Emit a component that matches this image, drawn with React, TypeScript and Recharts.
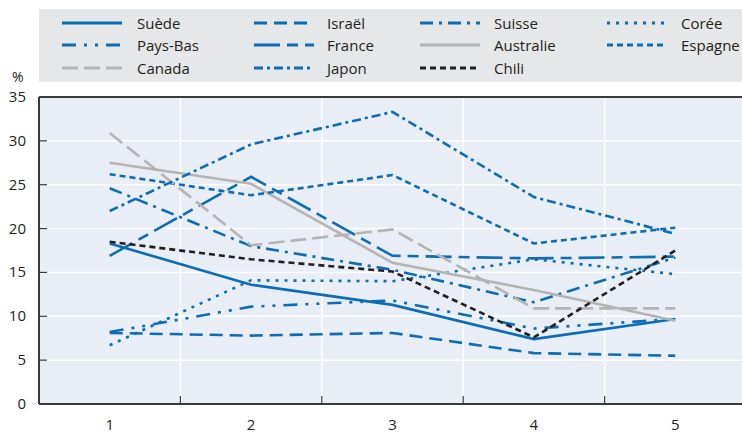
import React from 'react';
import { LineChart, Line, XAxis, YAxis, CartesianGrid, ReferenceLine } from 'recharts';

const categories = ['1', '2', '3', '4', '5'];

const suede = [18.3, 13.6, 11.3, 7.4, 9.7];
const israel = [8.1, 7.8, 8.1, 5.8, 5.5];
const suisse = [24.6, 18.0, 15.3, 11.6, 16.7];
const coree = [6.7, 14.1, 14.0, 16.5, 14.8];
const paysBas = [8.2, 11.1, 11.8, 8.6, 9.7];
const france = [16.9, 25.9, 16.9, 16.6, 16.8];
const australie = [27.5, 25.1, 16.1, 13.0, 9.5];
const espagne = [26.2, 23.8, 26.1, 18.3, 20.1];
const canada = [30.9, 18.1, 19.9, 10.9, 10.9];
const japon = [22.0, 29.6, 33.3, 23.6, 19.4];
const chili = [18.5, 16.5, 15.1, 7.6, 17.5];

const yTicks = [0, 5, 10, 15, 20, 25, 30, 35];

const BLUE = '#0a6db5';
const GRAY = '#b4b4b4';
const BLACK = '#231f20';

const series = [
  { key: 'suede', name: 'Suède', values: suede, color: BLUE, dash: undefined },
  { key: 'israel', name: 'Israël', values: israel, color: BLUE, dash: '13 7' },
  { key: 'suisse', name: 'Suisse', values: suisse, color: BLUE, dash: '13 6 3 6' },
  { key: 'coree', name: 'Corée', values: coree, color: BLUE, dash: '3 6' },
  { key: 'paysBas', name: 'Pays-Bas', values: paysBas, color: BLUE, dash: '14 8 3 8 3 8' },
  { key: 'france', name: 'France', values: france, color: BLUE, dash: '26 7 11 7' },
  { key: 'australie', name: 'Australie', values: australie, color: GRAY, dash: undefined },
  { key: 'espagne', name: 'Espagne', values: espagne, color: BLUE, dash: '6 4' },
  { key: 'canada', name: 'Canada', values: canada, color: GRAY, dash: '16 6' },
  { key: 'japon', name: 'Japon', values: japon, color: BLUE, dash: '9 4 3 4' },
  { key: 'chili', name: 'Chili', values: chili, color: BLACK, dash: '6 4' },
];

const data = categories.map((c, i) => {
  const row: Record<string, any> = { name: c };
  series.forEach((s) => { row[s.key] = s.values[i]; });
  return row;
});

const CHART_W = 750;
const CHART_H = 434;
const MARGIN = { top: 97, right: 4, left: 0, bottom: 0 };
const Y_AXIS_W = 39;
const X_AXIS_H = 30;
const PLOT_W = CHART_W - MARGIN.left - MARGIN.right - Y_AXIS_W;
const BAND = PLOT_W / categories.length;

const FONT = "'Open Sans', 'Noto Sans', sans-serif";
const AXIS = '#3a3a3a';

const YTick = (props: any) => {
  const { x, y, payload } = props;
  return (
    <g>
      {payload.value !== 0 && payload.value !== 35 && (
        <line x1={x} x2={x + 8} y1={y} y2={y} stroke={AXIS} strokeWidth={1.2} />
      )}
      <text x={x - 13} y={y} dy={5} textAnchor="end" fontSize={15} fontFamily={FONT} fill="#231f20">
        {payload.value}
      </text>
    </g>
  );
};

const XTick = (props: any) => {
  const { x, y, payload, index } = props;
  return (
    <g>
      {index > 0 && (
        <line x1={x - BAND / 2} x2={x - BAND / 2} y1={y - 8} y2={y} stroke={AXIS} strokeWidth={1.2} />
      )}
      <text x={x} y={y + 26} textAnchor="middle" fontSize={15} fontFamily={FONT} fill="#231f20">
        {payload.value}
      </text>
    </g>
  );
};

const legendCols = [23, 215, 381, 568];
const legendText = [98, 288, 455, 642];
const legendRows = [14, 36, 59];

function ChartLegend() {
  return (
    <div
      style={{
        position: 'absolute', left: 39, top: 9, width: 710, height: 73,
        background: '#e6e7e8', fontFamily: FONT, fontSize: 15, color: '#231f20',
      }}
    >
      {series.map((s, i) => {
        const col = i % 4;
        const row = Math.floor(i / 4);
        return (
          <div key={s.key}>
            <svg
              width={60}
              height={6}
              style={{ position: 'absolute', left: legendCols[col], top: legendRows[row] - 3 }}
            >
              <line x1={0} x2={60} y1={3} y2={3} stroke={s.color} strokeWidth={3} strokeDasharray={s.dash} />
            </svg>
            <span
              style={{
                position: 'absolute', left: legendText[col], top: legendRows[row] - 11,
                lineHeight: '22px', whiteSpace: 'nowrap',
              }}
            >
              {s.name}
            </span>
          </div>
        );
      })}
    </div>
  );
}

export default function App() {
  return (
    <div style={{ position: 'absolute', left: 0, top: 0, width: 742, height: 434, overflow: 'hidden', background: '#fff' }}>
      <ChartLegend />
      <div style={{ position: 'absolute', left: 12, top: 67, fontFamily: FONT, fontSize: 14, color: '#231f20' }}>%</div>
      <LineChart width={CHART_W} height={CHART_H} data={data} margin={MARGIN}>
        <CartesianGrid
          fill="#e8edf6"
          stroke="#ffffff"
          strokeWidth={1.5}
          verticalCoordinatesGenerator={({ offset }: any) =>
            categories.slice(1).map((_, i) => offset.left + BAND * (i + 1))
          }
        />
        <XAxis
          dataKey="name"
          height={X_AXIS_H}
          padding={{ left: BAND / 2, right: BAND / 2 }}
          tickSize={0}
          tickMargin={0}
          tickLine={false}
          axisLine={{ stroke: AXIS, strokeWidth: 2 }}
          tick={<XTick />}
          interval={0}
        />
        <YAxis
          width={Y_AXIS_W}
          domain={[0, 35]}
          ticks={yTicks}
          tickSize={0}
          tickMargin={0}
          tickLine={false}
          axisLine={{ stroke: AXIS, strokeWidth: 2 }}
          tick={<YTick />}
          interval={0}
        />
        <ReferenceLine y={35} stroke={AXIS} strokeWidth={2} />
        {series.map((s) => (
          <Line
            key={s.key}
            dataKey={s.key}
            name={s.name}
            type="linear"
            stroke={s.color}
            strokeWidth={2.6}
            strokeDasharray={s.dash}
            dot={false}
            activeDot={false}
            isAnimationActive={false}
          />
        ))}
      </LineChart>
    </div>
  );
}
